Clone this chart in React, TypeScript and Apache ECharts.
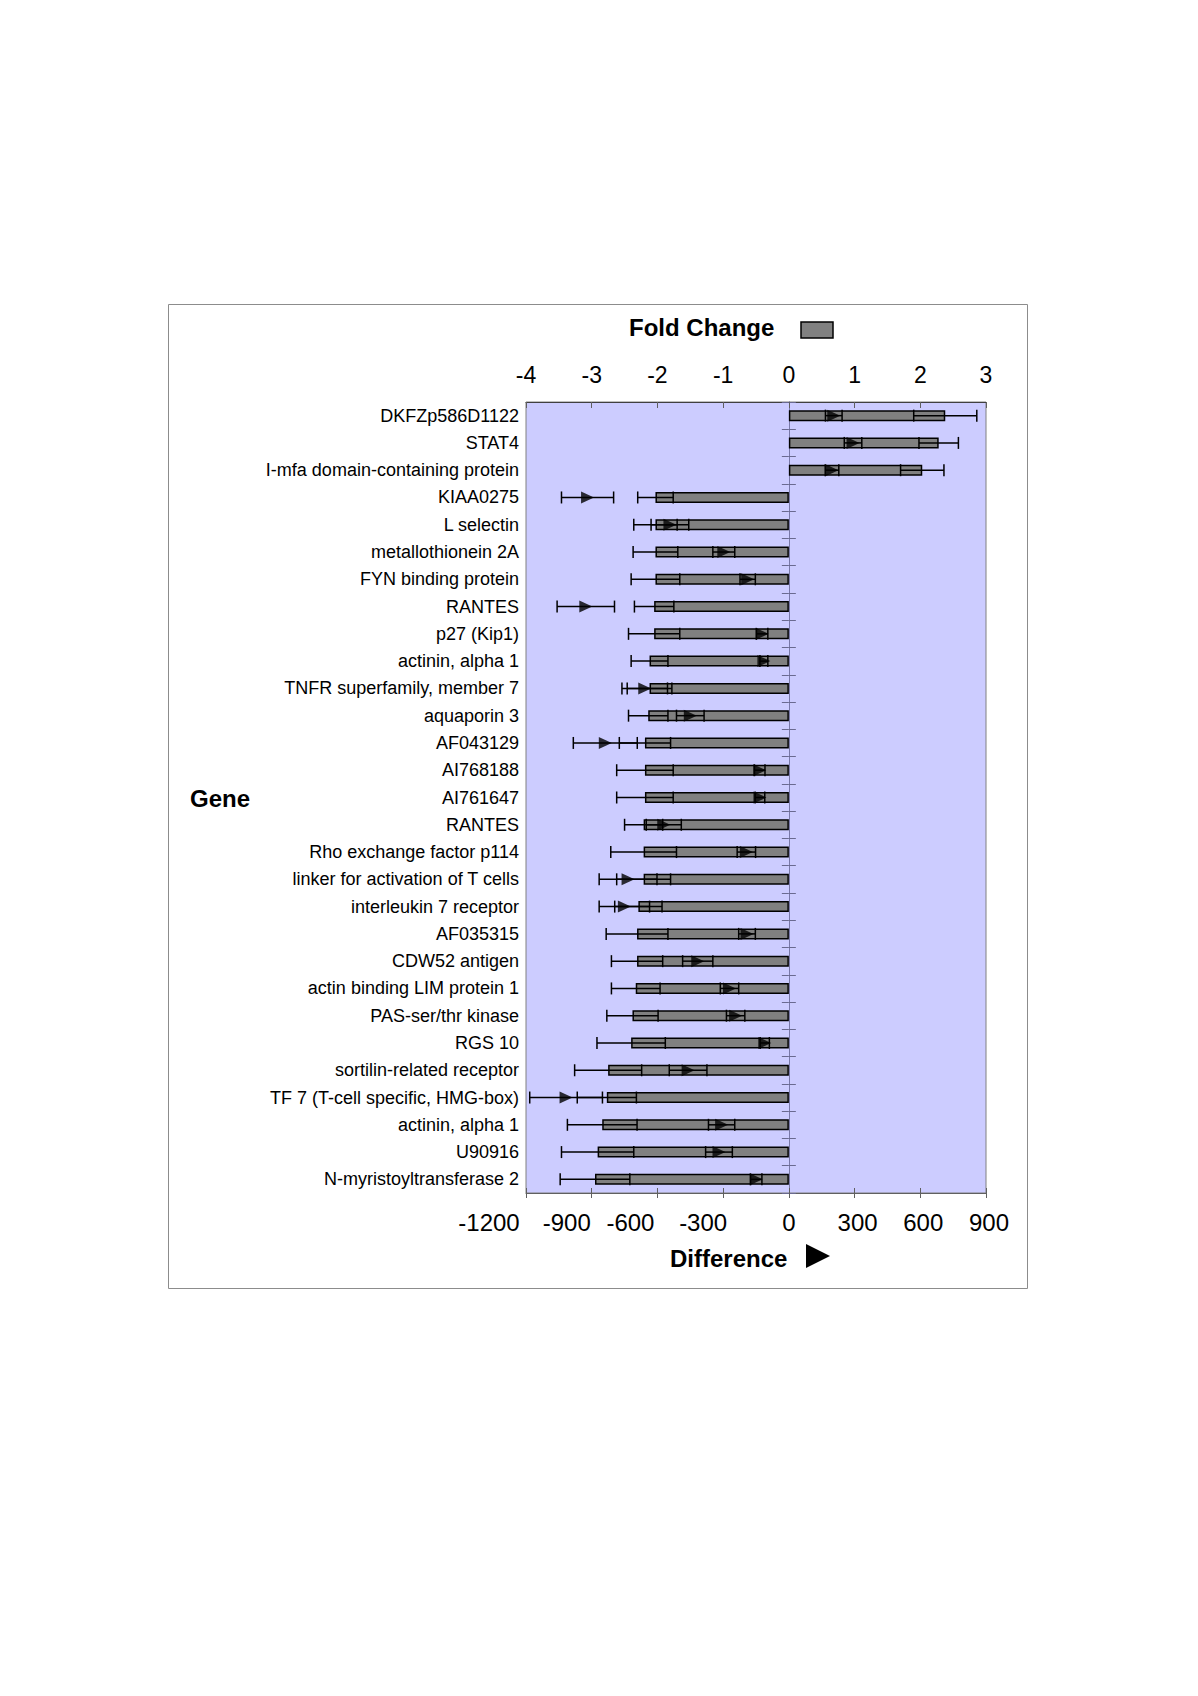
import React, { useEffect, useRef } from "react";
import * as echarts from "echarts";

const genes = [
  "DKFZp586D1122",
  "STAT4",
  "I-mfa domain-containing protein",
  "KIAA0275",
  "L selectin",
  "metallothionein 2A",
  "FYN binding protein",
  "RANTES",
  "p27 (Kip1)",
  "actinin, alpha 1",
  "TNFR superfamily, member 7",
  "aquaporin 3",
  "AF043129",
  "AI768188",
  "AI761647",
  "RANTES",
  "Rho exchange factor p114",
  "linker for activation of T cells",
  "interleukin 7 receptor",
  "AF035315",
  "CDW52 antigen",
  "actin binding LIM protein 1",
  "PAS-ser/thr kinase",
  "RGS 10",
  "sortilin-related receptor",
  "TF 7 (T-cell specific, HMG-box)",
  "actinin, alpha 1",
  "U90916",
  "N-myristoyltransferase 2",
];

const foldChange = [
  2.38, 2.28, 2.03, -2.03, -2.03, -2.03, -2.03, -2.05, -2.05, -2.12, -2.12, -2.14, -2.19, -2.19, -2.19,
  -2.21, -2.21, -2.21, -2.29, -2.31, -2.31, -2.33, -2.38, -2.4, -2.75, -2.77, -2.84, -2.91, -2.95,
];

const foldError = [
  0.48, 0.3, 0.33, 0.27, 0.33, 0.34, 0.37, 0.3, 0.39, 0.28, 0.34, 0.3, 0.39, 0.43, 0.43, 0.29, 0.5, 0.41,
  0.36, 0.47, 0.39, 0.37, 0.39, 0.52, 0.51, 0.45, 0.53, 0.55, 0.53,
];

const difference = [
  205, 293, 197, -919, -543, -297, -188, -927, -122, -114, -658, -450, -838, -133, -132, -571, -194, -734,
  -751, -191, -416, -271, -243, -110, -460, -1017, -307, -319, -149,
];

const differenceError = [
  38, 40, 31, 119, 86, 50, 35, 131, 26, 18, 104, 63, 146, 24, 22, 80, 42, 132, 115, 38, 69, 42, 42, 21, 86,
  166, 60, 61, 26,
];

const foldAxis = { min: -4, max: 3, interval: 1 };
const diffAxis = { min: -1200, max: 900, interval: 300 };

const FONT = "'Liberation Sans', Arial, Helvetica, sans-serif";

// horizontal offsets of the bottom tick labels (as in the original, negatives sit left of their tick)
const bottomLabelShift: Record<string, number> = {
  "-1200": -37,
  "-900": -25,
  "-600": -27,
  "-300": -20,
  "0": 0,
  "300": 3,
  "600": 3,
  "900": 3,
};

function errorBar(params: any, api: any) {
  const c = api.value(0);
  const idx = api.value(1);
  const e = api.value(2);
  const lo = api.coord([c - e, idx]);
  const hi = api.coord([c + e, idx]);
  const h = 6;
  const style = { stroke: "#000", lineWidth: 1.5, fill: "none" };
  return {
    type: "group",
    children: [
      { type: "line", shape: { x1: lo[0], y1: lo[1], x2: hi[0], y2: hi[1] }, style },
      { type: "line", shape: { x1: lo[0], y1: lo[1] - h, x2: lo[0], y2: lo[1] + h }, style },
      { type: "line", shape: { x1: hi[0], y1: hi[1] - h, x2: hi[0], y2: hi[1] + h }, style },
    ],
  };
}

export default function App() {
  const ref = useRef<HTMLDivElement>(null);

  useEffect(() => {
    if (!ref.current) return;
    const chart = echarts.init(ref.current, undefined, { renderer: "svg" });

    const rich: Record<string, any> = {};
    Object.keys(bottomLabelShift).forEach((k, i) => {
      const s = bottomLabelShift[k];
      rich["t" + i] = {
        fontSize: 24,
        fontFamily: FONT,
        color: "#000",
        padding: s < 0 ? [0, -2 * s, 0, 0] : [0, 0, 0, 2 * s],
      };
    });
    const keys = Object.keys(bottomLabelShift);

    const option: any = {
      animation: false,
      backgroundColor: "#ffffff",
      grid: {
        left: 526,
        right: 212,
        top: 402,
        bottom: 503,
        show: true,
        backgroundColor: "#ccccff",
        borderColor: "#808080",
        borderWidth: 1,
      },
      xAxis: [
        {
          type: "value",
          position: "top",
          min: foldAxis.min,
          max: foldAxis.max,
          interval: foldAxis.interval,
          axisLine: { show: true, onZero: false, lineStyle: { color: "#404040", width: 1 } },
          axisTick: { show: true, inside: true, length: 6, lineStyle: { color: "#606060" } },
          axisLabel: { fontSize: 23, fontFamily: FONT, color: "#000", margin: 16 },
          splitLine: { show: false },
        },
        {
          type: "value",
          position: "bottom",
          min: diffAxis.min,
          max: diffAxis.max,
          interval: diffAxis.interval,
          axisLine: { show: true, onZero: false, lineStyle: { color: "#606060", width: 1 } },
          axisTick: { show: true, inside: false, length: 5, lineStyle: { color: "#606060" } },
          axisLabel: {
            margin: 17,
            showMinLabel: true,
            showMaxLabel: true,
            formatter: (v: number) => {
              const i = keys.indexOf(String(v));
              return i >= 0 ? `{t${i}|${v}}` : String(v);
            },
            rich,
          },
          splitLine: { show: false },
        },
        {
          type: "value",
          position: "bottom",
          min: diffAxis.min,
          max: diffAxis.max,
          interval: diffAxis.interval,
          axisLine: { show: false, onZero: false },
          axisTick: { show: true, inside: true, length: 5, lineStyle: { color: "#606060" } },
          axisLabel: { show: false },
          splitLine: { show: false },
        },
      ],
      yAxis: [
        {
          type: "category",
          data: genes,
          inverse: true,
          position: "left",
          axisLine: { show: false, onZero: false },
          axisTick: { show: false },
          axisLabel: { interval: 0, fontSize: 18, fontFamily: FONT, color: "#000", margin: 7 },
          splitLine: { show: false },
        },
        {
          type: "category",
          data: genes,
          inverse: true,
          position: "left",
          axisLine: { show: true, onZero: true, onZeroAxisIndex: 0, lineStyle: { color: "#7878a8", width: 1 } },
          axisTick: { show: true, inside: true, length: 7, lineStyle: { color: "#6a6a90" } },
          axisLabel: { show: false },
          splitLine: { show: false },
        },
        {
          type: "category",
          data: genes,
          inverse: true,
          position: "left",
          axisLine: { show: true, onZero: true, onZeroAxisIndex: 1, lineStyle: { color: "#7878a8", width: 1 } },
          axisTick: { show: true, inside: false, length: 7, lineStyle: { color: "#6a6a90" } },
          axisLabel: { show: false },
          splitLine: { show: false },
        },
      ],
      series: [
        {
          name: "Fold Change",
          type: "bar",
          xAxisIndex: 0,
          yAxisIndex: 0,
          data: foldChange,
          barWidth: 11,
          itemStyle: { color: "#808080", borderColor: "#000", borderWidth: 1.5 },
          z: 2,
        },
        {
          name: "Fold Change error",
          type: "custom",
          xAxisIndex: 0,
          yAxisIndex: 0,
          renderItem: errorBar,
          encode: { x: 0, y: 1 },
          data: genes.map((_, i) => [foldChange[i], i, foldError[i]]),
          z: 3,
        },
        {
          name: "Difference error",
          type: "custom",
          xAxisIndex: 1,
          yAxisIndex: 0,
          renderItem: errorBar,
          encode: { x: 0, y: 1 },
          data: genes.map((_, i) => [difference[i], i, differenceError[i]]),
          z: 4,
        },
        {
          name: "Difference",
          type: "scatter",
          xAxisIndex: 1,
          yAxisIndex: 0,
          symbol: "path://M0,0 L10,5 L0,10 Z",
          symbolSize: [13, 12],
          itemStyle: { color: "#000" },
          data: genes.map((_, i) => [difference[i], i]),
          z: 5,
        },
      ],
      graphic: [
        {
          type: "rect",
          silent: true,
          shape: { x: 168.5, y: 304.5, width: 859, height: 984 },
          style: { fill: "none", stroke: "#8c8c8c", lineWidth: 1 },
          z: 100,
        },
        {
          type: "text",
          left: 629,
          top: 315,
          style: { text: "Fold Change", fontSize: 24, fontWeight: "bold", fontFamily: FONT, fill: "#000" },
        },
        {
          type: "rect",
          shape: { x: 801, y: 322, width: 32, height: 16 },
          style: { fill: "#808080", stroke: "#000", lineWidth: 1.5 },
        },
        {
          type: "text",
          left: 190,
          top: 786,
          style: { text: "Gene", fontSize: 24, fontWeight: "bold", fontFamily: FONT, fill: "#000" },
        },
        {
          type: "text",
          left: 670,
          top: 1246,
          style: { text: "Difference", fontSize: 24, fontWeight: "bold", fontFamily: FONT, fill: "#000" },
        },
        {
          type: "polygon",
          shape: { points: [[806, 1244], [830, 1256], [806, 1268]] },
          style: { fill: "#000" },
        },
      ],
    };

    chart.setOption(option);
    return () => chart.dispose();
  }, []);

  return (
    <div
      ref={ref}
      style={{ position: "absolute", left: 0, top: 0, width: 1198, height: 1696, background: "#fff" }}
    />
  );
}
